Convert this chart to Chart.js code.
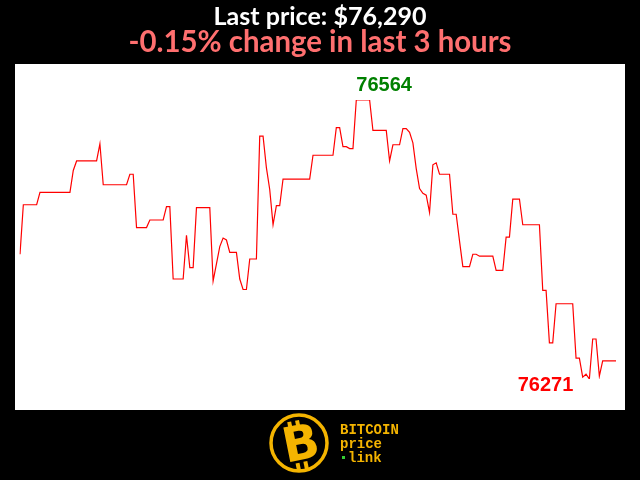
<!DOCTYPE html>
<html>
<head>
<meta charset="utf-8">
<script src="https://cdn.jsdelivr.net/npm/chart.js@4.4.1/dist/chart.umd.min.js"></script>
<style>
  html, body { margin: 0; padding: 0; background: #000; }
  #wrap { width: 640px; height: 480px; }
</style>
</head>
<body>
<div id="wrap"><canvas id="priceChart" width="640" height="480"></canvas></div>
<script>
// one price per minute, last 3 hours
const prices = [
  76402, 76454, 76454, 76454, 76454, 76454, 76467, 76467, 76467, 76467,
  76467, 76467, 76467, 76467, 76467, 76467, 76490, 76500, 76500, 76500,
  76500, 76500, 76500, 76500, 76518, 76475, 76475, 76475, 76475, 76475,
  76475, 76475, 76475, 76486, 76486, 76430, 76430, 76430, 76430, 76438,
  76438, 76438, 76438, 76438, 76452, 76452, 76376, 76376, 76376, 76376,
  76422, 76388, 76388, 76451, 76451, 76451, 76451, 76451, 76374, 76392,
  76410, 76419, 76417, 76404, 76404, 76404, 76376, 76365, 76365, 76397,
  76397, 76397, 76526, 76526, 76493, 76470, 76433, 76453, 76453, 76481,
  76481, 76481, 76481, 76481, 76481, 76481, 76481, 76481, 76506, 76506,
  76506, 76506, 76506, 76506, 76506, 76535, 76535, 76515, 76515, 76513,
  76513, 76564, 76564, 76564, 76564, 76564, 76532, 76532, 76532, 76532,
  76532, 76500, 76517, 76517, 76517, 76534, 76534, 76530, 76519, 76492,
  76471, 76466, 76464, 76446, 76496, 76498, 76486, 76486, 76486, 76486,
  76444, 76444, 76416, 76389, 76389, 76389, 76402, 76402, 76400, 76400,
  76400, 76400, 76400, 76385, 76385, 76385, 76420, 76420, 76460, 76460,
  76460, 76433, 76433, 76433, 76433, 76433, 76433, 76364, 76364, 76309,
  76309, 76350, 76350, 76350, 76350, 76350, 76350, 76293, 76293, 76273,
  76276, 76271, 76313, 76313, 76274, 76290, 76290, 76290, 76290, 76290
];
const minutes = prices.map((p, i) => i);

const titleText = 'Last price: $76,290';
const changeText = '-0.15% change in last 3 hours';
const logoLines = ['BITCOIN', 'price', 'link'];

const yellow = '#f4b400';

// centred text fitted to a given width
function fittedText(ctx, text, x, y, width) {
  const w = ctx.measureText(text).width;
  ctx.save();
  ctx.translate(x, y);
  ctx.scale(width / w, 1);
  ctx.fillText(text, 0, 0);
  ctx.restore();
}

const framePlugin = {
  id: 'frame',
  beforeDraw(chart) {
    const ctx = chart.ctx;
    const ca = chart.chartArea;
    ctx.save();
    ctx.fillStyle = '#000';
    ctx.fillRect(0, 0, chart.width, chart.height);
    ctx.fillStyle = '#fff';
    ctx.fillRect(ca.left - 5, ca.top - 36, ca.right - ca.left + 14, ca.bottom - ca.top + 67);
    ctx.restore();
  },
  afterDraw(chart) {
    const ctx = chart.ctx;
    const xs = chart.scales.x;
    const ys = chart.scales.y;
    ctx.save();

    // headline
    ctx.textAlign = 'center';
    ctx.textBaseline = 'alphabetic';
    ctx.fillStyle = '#fff';
    ctx.font = 'bold 25px Lato';
    fittedText(ctx, titleText, 320, 25, 213);
    ctx.fillStyle = '#ff6f6f';
    ctx.font = 'bold 30px Lato';
    fittedText(ctx, changeText, 320, 52, 383);

    // high / low labels
    const hi = Math.max(...prices);
    const lo = Math.min(...prices);
    const hiIdx = prices.indexOf(hi);
    const loIdx = prices.indexOf(lo);
    ctx.font = 'bold 20px "Liberation Sans"';
    ctx.fillStyle = '#008000';
    ctx.textAlign = 'left';
    ctx.fillText(String(hi), xs.getPixelForValue(hiIdx), ys.getPixelForValue(hi) - 9);
    ctx.fillStyle = '#ff0000';
    ctx.textAlign = 'right';
    ctx.fillText(String(lo), xs.getPixelForValue(loIdx) - 16, ys.getPixelForValue(lo) + 12);

    // logo
    ctx.strokeStyle = yellow;
    ctx.lineWidth = 3.5;
    ctx.beginPath();
    ctx.arc(299, 443, 28, 0, Math.PI * 2);
    ctx.stroke();
    ctx.translate(301, 445);
    ctx.rotate(-0.2);
    ctx.fillStyle = yellow;
    ctx.fillRect(-9, -25, 4, 8);
    ctx.fillRect(-1, -25, 4, 8);
    ctx.fillRect(-9, 17, 4, 8);
    ctx.fillRect(-1, 17, 4, 8);
    ctx.font = 'bold 48px "DejaVu Sans"';
    ctx.textAlign = 'center';
    ctx.textBaseline = 'middle';
    ctx.fillText('B', 0, 2);
    ctx.setTransform(1, 0, 0, 1, 0, 0);

    ctx.textAlign = 'left';
    ctx.textBaseline = 'alphabetic';
    ctx.font = 'bold 14px "Liberation Mono"';
    ctx.fillStyle = yellow;
    ctx.fillText(logoLines[0], 340, 434);
    ctx.fillText(logoLines[1], 340, 448);
    ctx.fillText(logoLines[2], 348, 462);
    ctx.fillStyle = '#33cc33';
    ctx.fillRect(342, 456, 3, 3);
    ctx.restore();
  }
};

const config = {
  type: 'line',
  data: {
    labels: minutes,
    datasets: [{
      data: prices,
      borderColor: '#ff0000',
      borderWidth: 1.2,
      pointRadius: 0,
      tension: 0,
      fill: false
    }]
  },
  options: {
    responsive: false,
    animation: false,
    devicePixelRatio: 1,
    layout: { padding: { left: 20, right: 24, top: 100, bottom: 101 } },
    plugins: {
      legend: { display: false },
      tooltip: { enabled: false }
    },
    scales: {
      x: { display: false },
      y: { display: false, min: Math.min(...prices), max: Math.max(...prices) }
    }
  },
  plugins: [framePlugin]
};

const ctxPrice = document.getElementById('priceChart').getContext('2d');
const priceChart = new Chart(ctxPrice, config);
</script>
</body>
</html>
